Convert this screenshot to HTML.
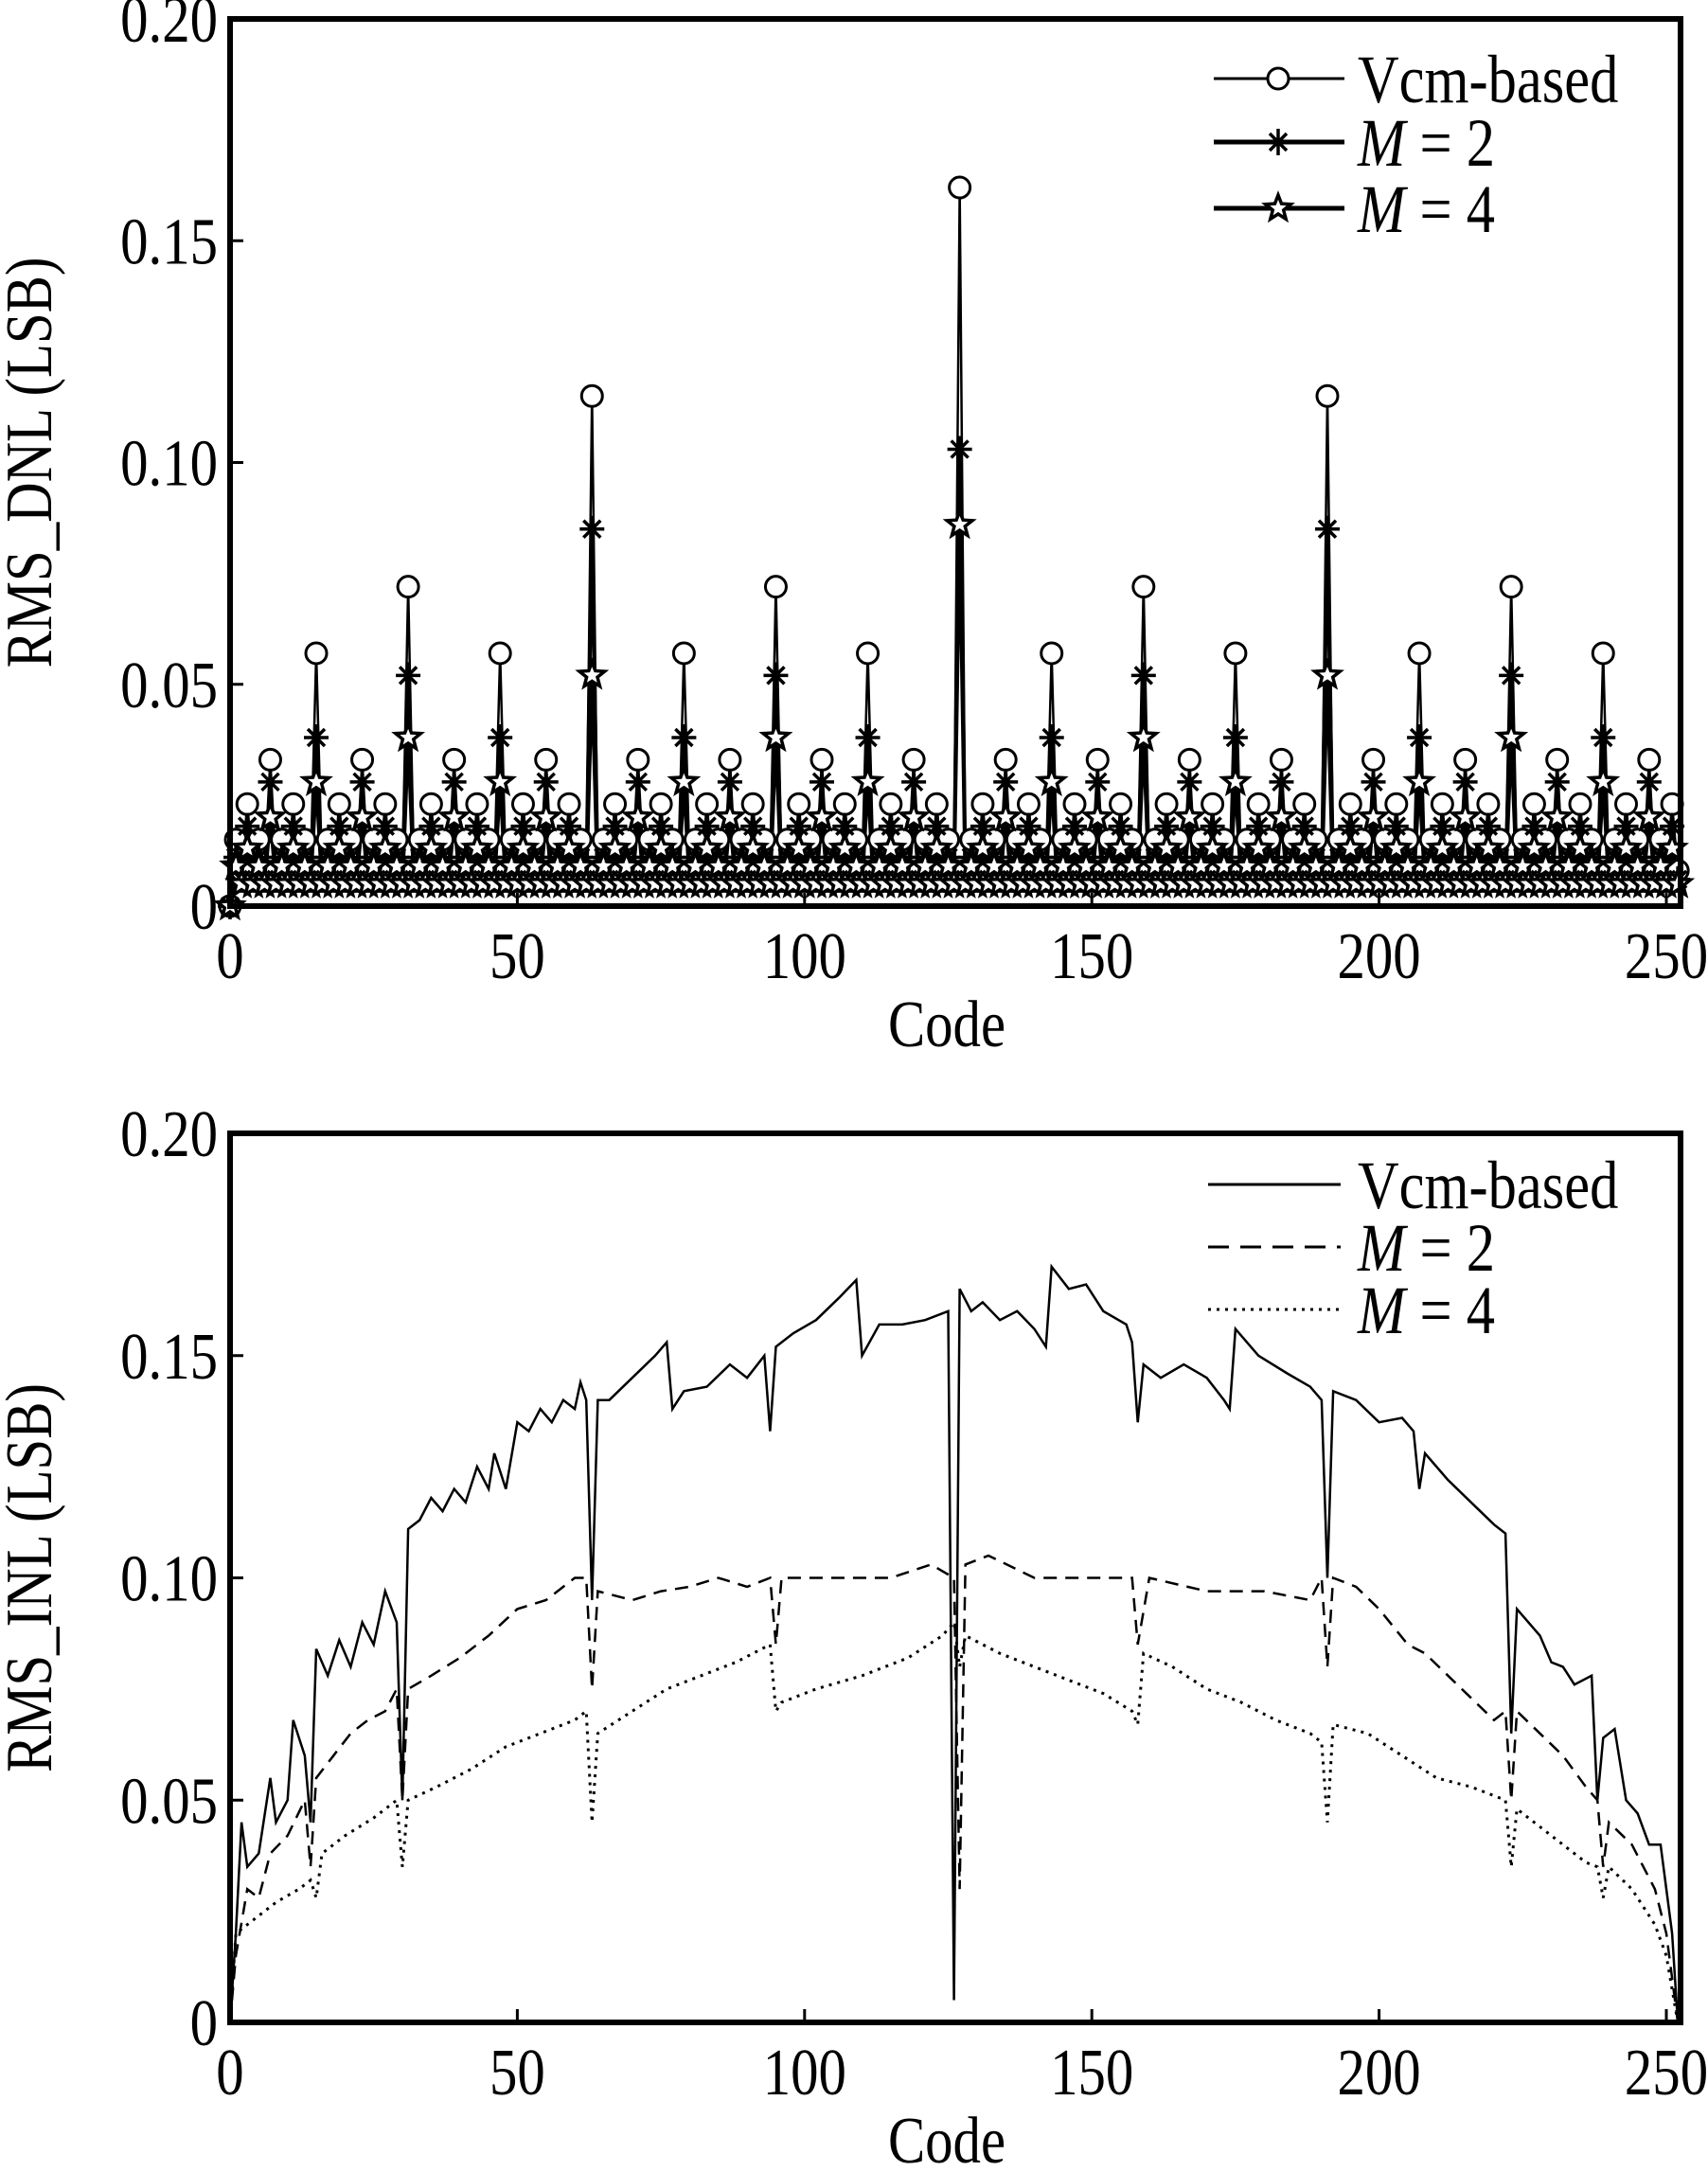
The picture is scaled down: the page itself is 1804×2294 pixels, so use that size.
<!DOCTYPE html>
<html><head><meta charset="utf-8"><style>
html,body{margin:0;padding:0;background:#fff}
svg{display:block}
text{font-family:"Liberation Serif",serif;fill:#000}
</style></head><body>
<svg id="chart" width="1804" height="2294" viewBox="0 0 1804 2294" xmlns="http://www.w3.org/2000/svg"></svg>
<script>
// ---------- data ----------
const xTicks = [0, 50, 100, 150, 200, 250];
const yTicks = [0, 0.05, 0.10, 0.15, 0.20];
const yTickLabels = ["0", "0.05", "0.10", "0.15", "0.20"];
const dnlCodes = Array.from({length: 253}, (_, i) => i);
// DNL level per number of trailing ones of code (bit transition level 0..7)
const dnlVcmLevels = [0.008, 0.015, 0.023, 0.033, 0.057, 0.072, 0.115, 0.162];
const dnlM2Levels  = [0.006, 0.011, 0.018, 0.028, 0.038, 0.052, 0.085, 0.103];
const dnlM4Levels  = [0.005, 0.009, 0.013, 0.020, 0.028, 0.038, 0.052, 0.086];

const inlVcmCodes = [0,1,2,3,5,7,8,10,11,13,14,15,17,19,21,23,25,27,29,30,31,33,35,37,39,41,43,45,46,48,50,52,54,56,58,60,61,62,63,64,66,70,74,76,77,79,83,87,90,93,94,95,98,102,106,109,110,113,117,121,125,126,127,129,131,134,137,140,142,143,146,149,152,156,157,158,159,162,166,170,173,174,175,179,184,188,190,191,192,196,200,204,206,207,208,212,216,220,222,223,224,228,230,232,234,237,238,239,241,243,245,247,249,250,251,252];
const inlVcmValues = [0,0.02,0.045,0.035,0.038,0.055,0.045,0.05,0.068,0.06,0.045,0.084,0.078,0.086,0.08,0.09,0.085,0.097,0.09,0.05,0.111,0.113,0.118,0.115,0.12,0.117,0.125,0.12,0.128,0.12,0.135,0.133,0.138,0.135,0.14,0.138,0.144,0.14,0.095,0.14,0.14,0.145,0.15,0.153,0.138,0.142,0.143,0.148,0.145,0.15,0.133,0.152,0.155,0.158,0.163,0.167,0.15,0.157,0.157,0.158,0.16,0.005,0.165,0.16,0.162,0.158,0.16,0.156,0.152,0.17,0.165,0.166,0.16,0.157,0.153,0.135,0.148,0.145,0.148,0.145,0.14,0.138,0.156,0.15,0.146,0.143,0.14,0.1,0.142,0.14,0.135,0.136,0.133,0.12,0.128,0.122,0.117,0.112,0.11,0.065,0.093,0.087,0.081,0.08,0.076,0.078,0.05,0.064,0.066,0.05,0.047,0.04,0.04,0.03,0.02,0.0];
const inlM2Codes = [0,1,3,5,7,10,13,14,15,18,21,24,27,29,30,31,35,40,45,50,55,60,62,63,64,70,75,80,85,90,94,95,96,105,115,122,126,127,128,132,140,150,157,158,160,170,180,188,190,191,192,196,200,205,208,212,216,220,222,223,224,228,232,236,238,239,240,244,248,250,252];
const inlM2Values = [0,0.015,0.03,0.028,0.038,0.042,0.05,0.035,0.055,0.06,0.065,0.068,0.07,0.075,0.05,0.075,0.078,0.082,0.087,0.093,0.095,0.1,0.1,0.075,0.097,0.095,0.097,0.098,0.1,0.098,0.1,0.085,0.1,0.1,0.1,0.103,0.1,0.03,0.103,0.105,0.1,0.1,0.1,0.085,0.1,0.097,0.097,0.095,0.1,0.08,0.1,0.098,0.093,0.085,0.083,0.078,0.073,0.068,0.07,0.05,0.07,0.065,0.06,0.053,0.05,0.035,0.045,0.04,0.03,0.02,0];
const inlM4Codes = [0,1,4,8,12,14,15,16,20,25,29,30,31,36,42,48,54,60,62,63,64,70,76,82,88,94,95,96,102,110,118,124,126,127,128,134,140,146,152,157,158,159,164,170,176,182,188,190,191,192,198,204,210,216,222,223,224,230,236,238,239,240,244,248,250,252];
const inlM4Values = [0,0.02,0.023,0.027,0.03,0.032,0.028,0.038,0.042,0.046,0.05,0.035,0.05,0.053,0.057,0.062,0.065,0.068,0.07,0.045,0.065,0.07,0.075,0.078,0.081,0.085,0.07,0.072,0.075,0.078,0.082,0.087,0.09,0.08,0.087,0.083,0.08,0.077,0.074,0.07,0.067,0.083,0.08,0.075,0.072,0.068,0.065,0.063,0.045,0.067,0.065,0.06,0.055,0.053,0.05,0.035,0.048,0.042,0.036,0.035,0.028,0.035,0.03,0.022,0.015,0];

// ---------- drawing ----------
const NS = "http://www.w3.org/2000/svg";
const svg = document.getElementById("chart");
function mk(tag, attrs, parent){
  const e = document.createElementNS(NS, tag);
  for (const k in attrs) e.setAttribute(k, attrs[k]);
  (parent || svg).appendChild(e);
  return e;
}
function ctext(x, y, size, anchor, parent, extra){
  return mk("text", {x: 0, y: 0, "font-size": size, "text-anchor": anchor, transform: `translate(${x},${y}) ${extra || ""} scale(0.84,1)`}, parent);
}
const L = 243, R = 1775;
function xs(c){ return L + (c / 250) * (1760 - L); }
function makeY(top, bottom){ return v => bottom - (v / 0.2) * (bottom - top); }

function trailingOnes(c){ let t = 0; while ((c & 1) === 1 && t < 7){ t++; c >>= 1; } return t; }

function axes(g, top, bottom, ys, yTitle, prefix){
  xTicks.forEach(t => {
    const tk = mk("line", {x1: xs(t), x2: xs(t), y1: bottom, y2: bottom - 14, stroke: "#000", "stroke-width": 3}, g);
    
    
    const tl = ctext(xs(t), bottom + 76, 70, "middle", g);
    tl.textContent = t;
    
    
  });
  yTicks.forEach((t, i) => {
    const tk = mk("line", {x1: L, x2: L + 14, y1: ys(t), y2: ys(t), stroke: "#000", "stroke-width": 3}, g);
    
    
    const tl = ctext(230, ys(t) + 24, 70, "end", g);
    tl.textContent = yTickLabels[i];
    
    
  });
  const fr = mk("rect", {x: L, y: top, width: R - L, height: bottom - top, fill: "none", stroke: "#000", "stroke-width": 6}, g);
  
  
  const xt = ctext(1000, bottom + 148, 70, "middle", g);
  xt.textContent = "Code";
  
  
  const cy = (top + bottom) / 2;
  const yt = ctext(54, cy, 70, "middle", g, "rotate(-90)");
  yt.textContent = yTitle;
  
  
}

function marker(kind, x, y, g){
  if (kind === "circle") return mk("circle", {cx: x, cy: y, r: 11, fill: "#fff", stroke: "#000", "stroke-width": 3}, g);
  if (kind === "asterisk"){
    const p = `M${x-13},${y}H${x+13}M${x},${y-14}V${y+14}M${x-9},${y-9}L${x+9},${y+9}M${x-9},${y+9}L${x+9},${y-9}`;
    return mk("path", {d: p, stroke: "#000", "stroke-width": 3.5, fill: "none"}, g);
  }
  const pts = [];
  for (let i = 0; i < 10; i++){
    const a = -Math.PI/2 + i * Math.PI/5, r = i % 2 ? 6 : 14;
    pts.push((x + r*Math.cos(a)).toFixed(1) + "," + (y + r*Math.sin(a)).toFixed(1));
  }
  return mk("polygon", {points: pts.join(" "), fill: "#fff", stroke: "#000", "stroke-width": 3.5}, g);
}

// ---- DNL plot ----
const dnlTop = 20, dnlBot = 957, ysD = makeY(dnlTop, dnlBot);
const gD = mk("g", {});  
const dnlSeries = [
  {name: "vcm", levels: dnlVcmLevels, m: "circle", w: 2.5},
  {name: "m2", levels: dnlM2Levels, m: "asterisk", w: 4},
  {name: "m4", levels: dnlM4Levels, m: "star", w: 4}
];
dnlSeries.forEach(s => {
  const g = mk("g", {}, gD);
  
  
  const pts = dnlCodes.map(c => [xs(c), ysD(c === 0 ? 0 : s.levels[trailingOnes(c)])]);
  const pl = mk("polyline", {points: pts.map(p => p.join(",")).join(" "), fill: "none", stroke: "#000", "stroke-width": s.w}, g);
  
  
});
dnlSeries.forEach(s => {
  const g = mk("g", {}, gD);
  
  
  dnlCodes.forEach(c => {
    const m = marker(s.m, xs(c), ysD(c === 0 ? 0 : s.levels[trailingOnes(c)]), g);
    
    
  });
});
axes(gD, dnlTop, dnlBot, ysD, "RMS_DNL (LSB)", "dnl");

function legendText(x, y, e, g){
  const t = ctext(x, y, 72, "start", g);
  if (e.italic){
    const ts = mk("tspan", {"font-style": "italic"}, t); ts.textContent = "M";
    const t2 = mk("tspan", {}, t); t2.textContent = " " + e.label;
  } else t.textContent = e.label;
  return t;
}
const legD = [
  {m: "circle", label: "Vcm-based", italic: false, y: 83, w: 2},
  {m: "asterisk", label: "= 2", italic: true, y: 150, w: 4},
  {m: "star", label: "= 4", italic: true, y: 220, w: 4}
];
legD.forEach(e => {
  const g = mk("g", {}, gD);
  
  
  mk("line", {x1: 1282, x2: 1420, y1: e.y, y2: e.y, stroke: "#000", "stroke-width": e.w + 1}, g);
  marker(e.m, 1350, e.y, g);
  legendText(1434, e.y + 25, e, g);
});

// ---- INL plot ----
const inlTop = 1197, inlBot = 2136, ysI = makeY(inlTop, inlBot);
const gI = mk("g", {});  
const inlSeries = [
  {name: "vcm", codes: inlVcmCodes, vals: inlVcmValues, dash: "", w: 2.5},
  {name: "m2", codes: inlM2Codes, vals: inlM2Values, dash: "14,9", w: 2.5},
  {name: "m4", codes: inlM4Codes, vals: inlM4Values, dash: "3,6", w: 3}
];
inlSeries.forEach(s => {
  const pts = s.codes.map((c, i) => xs(c).toFixed(1) + "," + ysI(s.vals[i]).toFixed(1));
  const attrs = {points: pts.join(" "), fill: "none", stroke: "#000", "stroke-width": s.w};
  if (s.dash) attrs["stroke-dasharray"] = s.dash;
  const pl = mk("polyline", attrs, gI);
  
  
});
axes(gI, inlTop, inlBot, ysI, "RMS_INL (LSB)", "inl");
const legI = [
  {dash: "", label: "Vcm-based", italic: false, y: 1251},
  {dash: "22,12", label: "= 2", italic: true, y: 1317},
  {dash: "3,6", label: "= 4", italic: true, y: 1383}
];
legI.forEach(e => {
  const g = mk("g", {}, gI);
  
  
  const a = {x1: 1276, x2: 1416, y1: e.y, y2: e.y, stroke: "#000", "stroke-width": 3};
  if (e.dash) a["stroke-dasharray"] = e.dash;
  mk("line", a, g);
  legendText(1434, e.y + 25, e, g);
});
</script>
</body></html>
